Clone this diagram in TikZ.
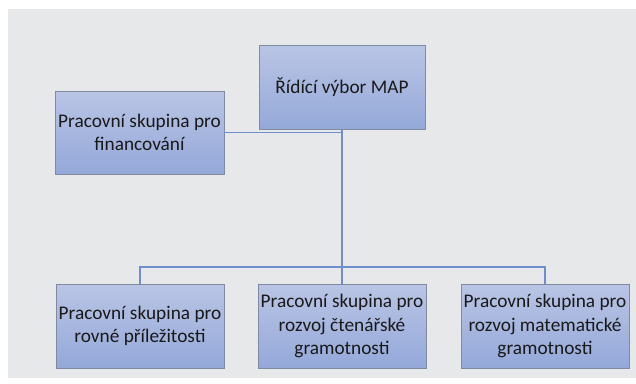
\documentclass[tikz,border=0pt]{standalone}
\usepackage{fontspec}
\setmainfont{Carlito}
\usepackage{tikz}
\usepackage{xcolor}
\definecolor{bggray}{RGB}{231,232,234}
\definecolor{boxtop}{RGB}{186,197,229}
\definecolor{boxbot}{RGB}{148,168,217}
\definecolor{boxline}{RGB}{128,138,160}
\definecolor{linkblue}{RGB}{112,142,206}

\begin{document}
\begin{tikzpicture}[x=1pt,y=-1pt,
  every node/.style={font=\fontsize{19.3}{23.5}\selectfont, text=black!90},
  orgbox/.style={draw=boxline, line width=0.8pt, top color=boxtop, bottom color=boxbot,
    minimum width=168, minimum height=84, align=center, inner sep=0pt},
  link/.style={draw=linkblue, line width=1.6pt}]
\useasboundingbox (0,0) rectangle (636,383);
\fill[bggray] (8,9) rectangle (636,378);
\node[orgbox, minimum width=166] (map) at (342,87.5) {Řídící výbor MAP};
\node[orgbox, minimum width=169, minimum height=83] (fin) at (139.5,132.5) {Pracovní skupina pro\\financování};
\node[orgbox] (rovne) at (140,326) {Pracovní skupina pro\\rovné příležitosti};
\node[orgbox] (cten) at (342,326) {Pracovní skupina pro\\rozvoj čtenářské\\gramotnosti};
\node[orgbox] (mat) at (545,326) {Pracovní skupina pro\\rozvoj matematické\\gramotnosti};
\coordinate (bus) at (342,267);
\draw[link] (fin.east) -- (fin.east -| map.south);
\draw[link] (map.south) -- (cten.north);
\draw[link] (rovne.north) |- (bus) -| (mat.north);
\end{tikzpicture}
\end{document}
